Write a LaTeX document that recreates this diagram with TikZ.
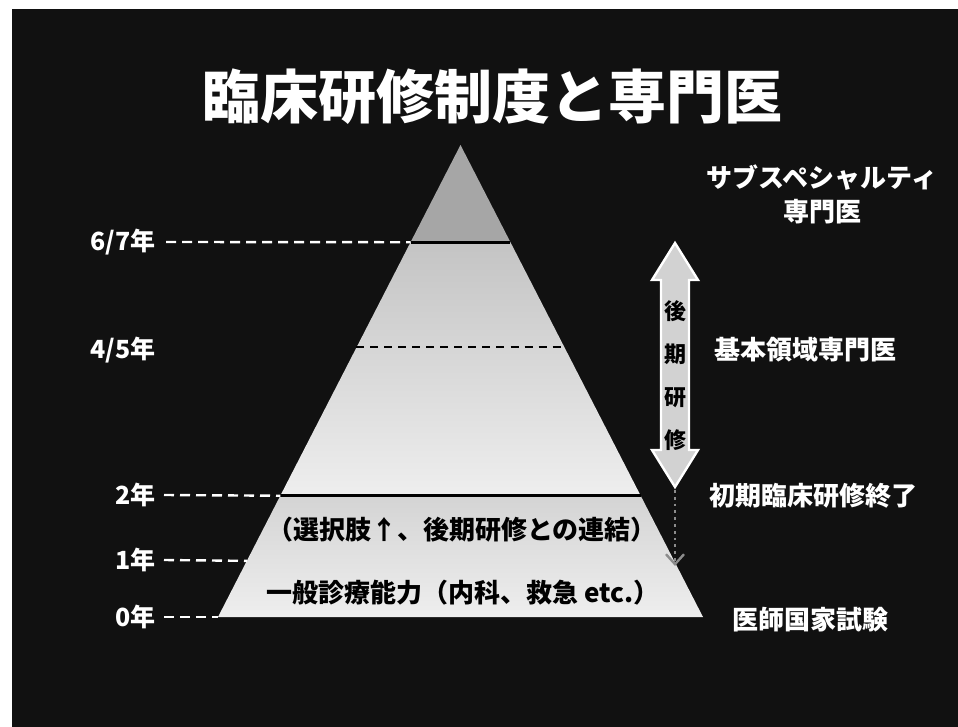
\documentclass[tikz,border=0pt]{standalone}
\usepackage{fontspec}
\setmainfont{Noto Sans CJK JP}
\usepackage{xcolor}
\usepackage{tikz}
\usetikzlibrary{arrows.meta,positioning,calc}
\definecolor{slate}{HTML}{111111}
\definecolor{apexgray}{HTML}{A6A6A6}
\definecolor{midgray}{HTML}{C4C4C4}
\definecolor{palegray}{HTML}{EEEEEE}
\definecolor{basegray}{HTML}{D4D4D4}
\definecolor{arrowgray}{HTML}{D2D2D2}
\definecolor{dotgray}{HTML}{8C8C8C}
\tikzset{
  titletext/.style={
    text=white, font=\fontsize{29}{32}\selectfont\bfseries,
    inner sep=0pt
  },
  yearlabel/.style={
    text=white, font=\fontsize{12.5}{14}\selectfont\bfseries,
    anchor=east, inner sep=1pt
  },
  sidelabel/.style={
    text=white, font=\fontsize{13}{17}\selectfont\bfseries,
    align=center, inner sep=1pt
  },
  bandtext/.style={
    text=black, font=\fontsize{13}{15}\selectfont\bfseries,
    inner sep=1pt
  },
  kanjitext/.style={
    text=black, font=\fontsize{11}{21.5}\selectfont\bfseries,
    align=center, inner sep=0pt
  },
  tickline/.style={white, line width=1.2pt, dash pattern=on 5pt off 3pt},
  bandline/.style={black, line width=1.6pt},
  halfline/.style={black, line width=1pt, dash pattern=on 4pt off 3pt},
  dotarrow/.style={
    dotgray, line width=1.4pt, dotted,
    -{Straight Barb[length=5pt,width=9pt,line width=1.2pt]}
  },
}

\begin{document}
\begin{tikzpicture}[x=0.5pt,y=-0.5pt]
\useasboundingbox (0,0) rectangle (958,727);
\fill[white] (0,0) rectangle (958,727);
\fill[slate] (12,9) rectangle (958,727);

% pyramid corners and band edges
\coordinate (apex) at (460.5,145);
\coordinate (bl) at (218,617);
\coordinate (br) at (703,617);
\coordinate (l67) at ($(apex)!0.206!(bl)$);
\coordinate (r67) at ($(apex)!0.206!(br)$);
\coordinate (l45) at ($(apex)!0.4289!(bl)$);
\coordinate (r45) at ($(apex)!0.4289!(br)$);
\coordinate (l2) at ($(apex)!0.7431!(bl)$);
\coordinate (r2) at ($(apex)!0.7431!(br)$);
\coordinate (l1) at ($(apex)!0.8811!(bl)$);

\fill[apexgray] (apex) -- (l67) -- (r67) -- cycle;
\shade[top color=midgray, bottom color=palegray] (l67) -- (l2) -- (r2) -- (r67) -- cycle;
\shade[top color=basegray, bottom color=palegray] (l2) -- (bl) -- (br) -- (r2) -- cycle;
\draw[bandline] (l67) -- (r67);
\draw[halfline] (l45) -- (r45);
\draw[bandline] (l2) -- (r2);

\node[titletext] (title) at (492,97) {臨床研修制度と専門医};

% years on the left
\node[yearlabel] (y67) at (158,242) {6/7年};
\node[yearlabel] (y45) at (158,350) {4/5年};
\node[yearlabel] (y2) at (158,495) {2年};
\node[yearlabel] (y1) at (158,560) {1年};
\node[yearlabel] (y0) at (158,617) {0年};
\draw[tickline] ([xshift=4pt]y67.east) -- (l67);
\draw[tickline] ([xshift=3pt]y2.east) -- (l2);
\draw[tickline] ([xshift=3pt]y1.east) -- (l1);
\draw[tickline] ([xshift=3pt]y0.east) -- (bl);

\node[bandtext] (elective) at (462,530) {（選択肢↑、後期研修との連結）};
\node[bandtext] (general) at (463,593) {一般診療能力（内科、救急 etc.）};

% later training arrow
\filldraw[fill=arrowgray, draw=white, line width=1.2pt]
  (675,243) -- (698,280) -- (689,280) -- (689,450) -- (698,450) -- (675,487)
  -- (652,450) -- (661,450) -- (661,280) -- (652,280) -- cycle;
\node[kanjitext] (kouki) at (675,376) {後\\期\\研\\修};
\coordinate (arrowtip) at (675,490);
\coordinate (firstend) at (675,566);
\draw[dotarrow] (arrowtip) -- (firstend);

% stages on the right
\node[sidelabel] (subspec) at (822,194) {サブスペシャルティ\\専門医};
\node[sidelabel] (basic) at (805,350) {基本領域専門医};
\node[sidelabel] (initial) at (813,496) {初期臨床研修終了};
\node[sidelabel] (exam) at (810,620) {医師国家試験};
\end{tikzpicture}
\end{document}
